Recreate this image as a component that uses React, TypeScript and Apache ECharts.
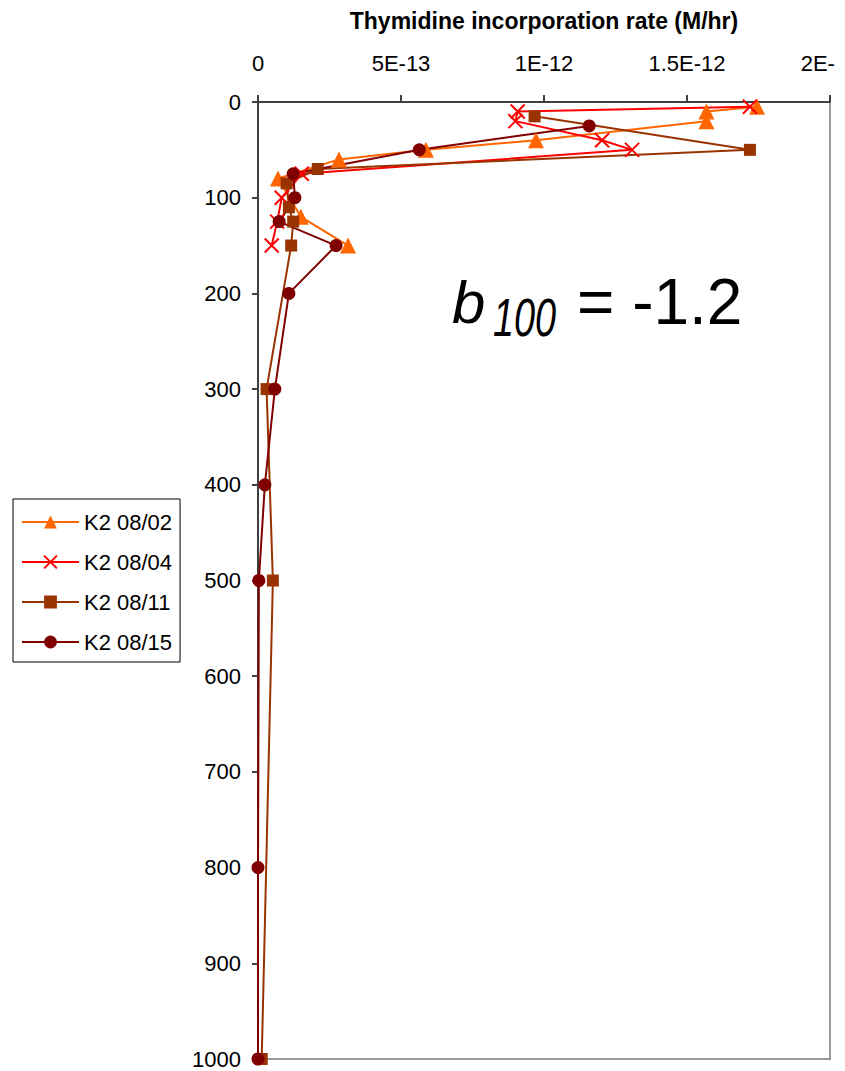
import React, { useEffect, useRef } from "react";
import * as echarts from "echarts";

const seriesNames = ["K2 08/02", "K2 08/04", "K2 08/11", "K2 08/15"];

const depth0802 = [5, 10, 20, 40, 50, 60, 80, 120, 150];
const rate0802 = [1.745e-12, 1.568e-12, 1.568e-12, 0.972e-12, 0.587e-12, 0.283e-12, 0.07e-12, 0.15e-12, 0.315e-12];

const depth0804 = [5, 10, 20, 40, 50, 75, 100, 125, 150];
const rate0804 = [1.72e-12, 0.908e-12, 0.9e-12, 1.203e-12, 1.308e-12, 0.153e-12, 0.083e-12, 0.067e-12, 0.048e-12];

const depth0811 = [15, 50, 70, 85, 110, 125, 150, 300, 500, 1000];
const rate0811 = [0.967e-12, 1.72e-12, 0.209e-12, 0.1e-12, 0.108e-12, 0.123e-12, 0.116e-12, 0.03e-12, 0.052e-12, 0.013e-12];

const depth0815 = [25, 50, 75, 100, 125, 150, 200, 300, 400, 500, 800, 1000];
const rate0815 = [1.158e-12, 0.564e-12, 0.123e-12, 0.129e-12, 0.074e-12, 0.273e-12, 0.108e-12, 0.059e-12, 0.024e-12, 0.003e-12, 0, 0];

const colors = ["#FF6600", "#FF0000", "#993300", "#800000"];
const FONT = "'Liberation Sans', Arial, sans-serif";

function pairs(rates: number[], depths: number[]) {
  return rates.map((r, i) => [r, depths[i]]);
}

export default function App() {
  const ref = useRef<HTMLDivElement>(null);
  useEffect(() => {
    if (!ref.current) return;
    const chart = echarts.init(ref.current, undefined, { renderer: "svg" });
    const axisColor = "#404040";
    const mk = (i: number, data: number[][], symbol: string, size: number, extra: any = {}) => ({
      name: seriesNames[i],
      type: "line",
      data,
      symbol,
      symbolSize: size,
      showAllSymbol: true,
      clip: false,
      lineStyle: { color: colors[i], width: 2 },
      itemStyle: { color: colors[i], ...extra },
    });
    chart.setOption({
      animation: false,
      textStyle: { fontFamily: FONT },
      grid: {
        left: 258,
        top: 102,
        width: 572,
        height: 957,
        show: true,
        borderColor: "#999",
        borderWidth: 2,
        containLabel: false,
        outerBoundsMode: "none",
      },
      xAxis: {
        type: "value",
        position: "top",
        min: 0,
        max: 2e-12,
        interval: 5e-13,
        name: "Thymidine incorporation rate (M/hr)",
        nameLocation: "middle",
        nameGap: 70,
        nameTextStyle: { fontSize: 23, fontWeight: "bold", color: "#000", fontFamily: FONT },
        axisLine: { show: true, onZero: false, lineStyle: { color: axisColor, width: 2 } },
        axisTick: { show: true, length: 7, lineStyle: { color: axisColor, width: 2 } },
        axisLabel: {
          fontSize: 22,
          color: "#000",
          margin: 28,
          fontFamily: FONT,
          formatter: (v: number) =>
            v === 0 ? "0" : Number(v.toPrecision(4)).toExponential().toUpperCase(),
        },
        splitLine: { show: false },
      },
      yAxis: {
        type: "value",
        inverse: true,
        min: 0,
        max: 1000,
        interval: 100,
        axisLine: { show: true, onZero: false, lineStyle: { color: axisColor, width: 2 } },
        axisTick: { show: true, length: 6, lineStyle: { color: axisColor, width: 2 } },
        axisLabel: {
          fontSize: 22,
          color: "#000",
          margin: 17,
          fontFamily: FONT,
          formatter: (v: number) => String(v),
        },
        splitLine: { show: false },
      },
      legend: {
        orient: "vertical",
        left: 13,
        top: 499,
        padding: [11, 8, 8, 8],
        itemWidth: 57,
        itemHeight: 16,
        itemGap: 16,
        borderColor: "#000",
        borderWidth: 1,
        textStyle: { fontSize: 22, color: "#000", lineHeight: 24, fontFamily: FONT },
        data: seriesNames,
      },
      graphic: [
        {
          type: "text",
          x: 452,
          y: 302,
          style: {
            text: "b",
            font: "italic 60px " + FONT,
            fill: "#000",
            textAlign: "left",
            textVerticalAlign: "middle",
          },
        },
        {
          type: "text",
          x: 493,
          y: 317,
          scaleX: 0.7,
          style: {
            text: "100",
            font: "italic 54px " + FONT,
            fill: "#000",
            textAlign: "left",
            textVerticalAlign: "middle",
          },
        },
        {
          type: "text",
          x: 577,
          y: 302,
          style: {
            text: "= -1.2",
            font: "64px " + FONT,
            fill: "#000",
            textAlign: "left",
            textVerticalAlign: "middle",
          },
        },
      ],
      series: [
        mk(0, pairs(rate0802, depth0802), "triangle", 16),
        mk(1, pairs(rate0804, depth0804), "path://M0,0L10,10M10,0L0,10", 14, {
          borderColor: colors[1],
          borderWidth: 2,
        }),
        mk(2, pairs(rate0811, depth0811), "rect", 12),
        mk(3, pairs(rate0815, depth0815), "circle", 13),
      ],
    });
    return () => chart.dispose();
  }, []);
  return (
    <div
      ref={ref}
      style={{ position: "absolute", left: 0, top: 0, width: 835, height: 1071 }}
    />
  );
}
